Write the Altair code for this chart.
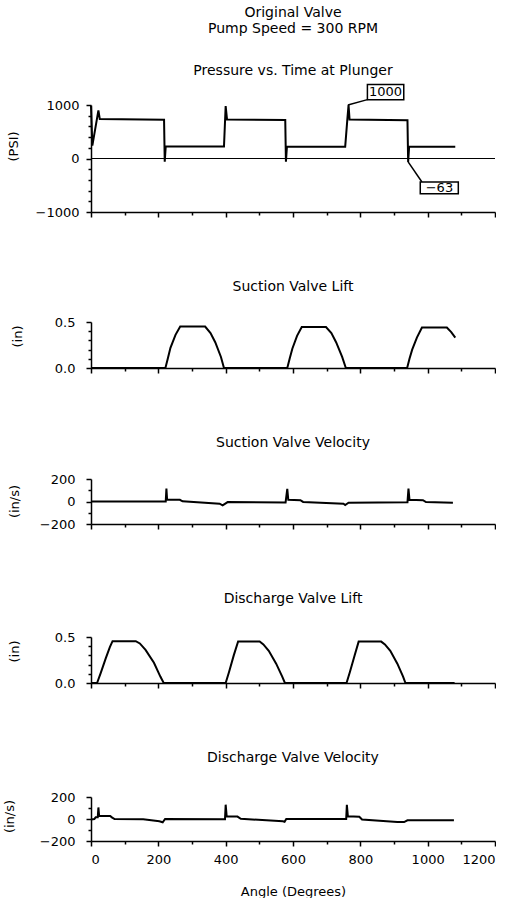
import altair as alt
import pandas as pd

FONT = "DejaVu Sans"

# ---------------- data ----------------
pressure_angle = [0, 4, 22, 26, 217, 219, 222, 395, 400, 404, 577, 579, 582,
                  755, 761, 765, 768, 940, 942, 945, 1082]
pressure_psi = [980, 240, 900, 740, 725, -60, 230, 225, 980, 730, 720, -60, 225,
                220, 700, 1000, 730, 715, -63, 225, 220]

suction_lift_angle = [0, 221, 228, 236, 251, 265, 339, 355, 369, 386, 395,
                      583, 590, 598, 612, 626, 698, 714, 728, 746, 757,
                      939, 946, 954, 968, 983, 1057, 1070, 1082]
suction_lift_in = [0, 0, 0.10, 0.22, 0.36, 0.45, 0.45, 0.38, 0.28, 0.12, 0,
                   0, 0.10, 0.21, 0.35, 0.445, 0.445, 0.38, 0.28, 0.12, 0,
                   0, 0.10, 0.20, 0.33, 0.44, 0.44, 0.39, 0.33]

suction_vel_angle = [0, 222, 224, 226, 264, 272, 382, 391, 406, 578, 583, 586,
                     622, 630, 750, 755, 765, 940, 943, 946, 986, 995, 1075]
suction_vel_ips = [0, 0, 115, 18, 15, 2, -20, -35, -5, -8, 112, 15,
                   12, -4, -20, -31, -11, -7, 115, 15, 12, -5, -12]

discharge_lift_angle = [0, 18, 29, 44, 56, 64, 133, 145, 162, 187, 206, 216,
                        400, 410, 424, 437, 501, 512, 528, 550, 568, 576,
                        759, 769, 783, 795, 862, 873, 889, 910, 927, 934, 1080]
discharge_lift_in = [0, 0, 0.11, 0.27, 0.39, 0.455, 0.455, 0.43, 0.36, 0.22, 0.07, 0,
                     0, 0.12, 0.30, 0.452, 0.452, 0.42, 0.35, 0.21, 0.07, 0,
                     0, 0.12, 0.30, 0.45, 0.45, 0.42, 0.35, 0.21, 0.07, 0, 0]

discharge_vel_angle = [0, 10, 14, 20, 22, 24, 57, 62, 70, 155, 203, 213, 220,
                       398, 400, 403, 435, 445, 570, 575, 580,
                       758, 760, 763, 797, 805, 910, 930, 940, 1078]
discharge_vel_ips = [-5, 0, 15, 15, 105, 30, 28, 15, 0, -2, -20, -30, 0,
                     -2, 130, 25, 22, 2, -20, -25, 0,
                     0, 128, 25, 20, -5, -27, -28, -12, -12]

x_ticks = list(range(0, 1201, 100))

callout_text = ["1000", "\u221263"]
callout_angle = [875, 1035]
callout_psi = [1241, -550]
box_angle = [821, 978]
box_angle2 = [929, 1091]
box_psi = [1100, -440]
box_psi2 = [1383, -660]
leader_angle = [763, 942]
leader_psi = [1000, -63]
leader_angle2 = [821, 983]
leader_psi2 = [1100, -440]

W = 404
TFS = 14   # title font size
LFS = 13   # axis label / axis title font size


def x_enc(field, show):
    axis = alt.Axis(
        values=x_ticks,
        labels=show,
        format="d",
        labelExpr="datum.value % 200 == 0 ? datum.label : ''",
        labelOverlap=False,
        tickSize={"condition": {"test": "datum.value % 200 == 0", "value": 5}, "value": 3},
        title="Angle (Degrees)" if show else None,
        labelPadding=7,
        titlePadding=19,
        grid=False,
    )
    return alt.X(f"{field}:Q", scale=alt.Scale(domain=[0, 1200], nice=False, zero=False), axis=axis)


def y_axis(values, major_test, fmt, title, title_x, title_y, label_pad):
    return alt.Axis(
        values=values,
        format=fmt,
        labelExpr=f"({major_test}) ? datum.label : ''",
        labelOverlap=False,
        tickSize={"condition": {"test": major_test, "value": 5}, "value": 3},
        title=title,
        titleX=title_x,
        titleY=title_y,
        titleBaseline="middle",
        titleAlign="center",
        labelPadding=label_pad,
        grid=False,
    )


def y_enc(field, domain, axis):
    return alt.Y(f"{field}:Q", scale=alt.Scale(domain=domain, nice=False, zero=False), axis=axis)


def ptitle(text, offset):
    return alt.TitleParams(text=text, fontSize=TFS, fontWeight="normal", font=FONT,
                           color="black", anchor="middle", frame="group", offset=offset)


# ---------------- pressure panel ----------------
p_df = pd.DataFrame({"angle": pressure_angle, "psi": pressure_psi})
p_domain = [-1000, 1000]
p_axis = y_axis(list(range(-1000, 1001, 200)), "datum.value % 1000 == 0", "d",
                "(PSI)", -78, 41, 7)

p_line = alt.Chart(p_df).mark_line(color="black", strokeWidth=2).encode(
    x=x_enc("angle", False), y=y_enc("psi", p_domain, p_axis))

zero_rule = alt.Chart(p_df).mark_rule(color="black", strokeWidth=1).encode(
    y=alt.YDatum(0, type="quantitative",
                 scale=alt.Scale(domain=p_domain, nice=False, zero=False), axis=p_axis))

lead_df = pd.DataFrame({"angle": leader_angle, "psi": leader_psi,
                        "angle2": leader_angle2, "psi2": leader_psi2})
leaders = alt.Chart(lead_df).mark_rule(color="black", strokeWidth=1.5).encode(
    x=x_enc("angle", False), y=y_enc("psi", p_domain, p_axis),
    x2=alt.X2("angle2:Q"), y2=alt.Y2("psi2:Q"))

box_df = pd.DataFrame({"angle": box_angle, "psi": box_psi,
                       "angle2": box_angle2, "psi2": box_psi2})
boxes = alt.Chart(box_df).mark_rect(fill="white", stroke="black", strokeWidth=1.5).encode(
    x=x_enc("angle", False), y=y_enc("psi", p_domain, p_axis),
    x2=alt.X2("angle2:Q"), y2=alt.Y2("psi2:Q"))

txt_df = pd.DataFrame({"angle": callout_angle, "psi": callout_psi, "label": callout_text})
texts = alt.Chart(txt_df).mark_text(font=FONT, fontSize=LFS, color="black",
                                    baseline="middle", align="center").encode(
    x=x_enc("angle", False), y=y_enc("psi", p_domain, p_axis), text="label:N")

pressure = alt.layer(p_line, zero_rule, leaders, boxes, texts).properties(
    width=W, height=107,
    title=alt.TitleParams(
        text=["Original Valve", "Pump Speed = 300 RPM"],
        subtitle="Pressure vs. Time at Plunger",
        fontSize=TFS, subtitleFontSize=TFS, fontWeight="normal",
        font=FONT, subtitleFont=FONT, color="black", subtitleColor="black",
        lineHeight=16, subtitleLineHeight=16, subtitlePadding=28,
        anchor="middle", frame="group", offset=6),
)

# ---------------- other panels ----------------
lift_vals = [0, 0.1, 0.2, 0.3, 0.4, 0.5]
lift_test = "datum.value == 0 || datum.value == 0.5"
vel_vals = [-200, -100, 0, 100, 200]
vel_test = "datum.value % 200 == 0"

sl = alt.Chart(pd.DataFrame({"angle": suction_lift_angle, "lift": suction_lift_in})).mark_line(
    color="black", strokeWidth=2).encode(
    x=x_enc("angle", False),
    y=y_enc("lift", [0, 0.5], y_axis(lift_vals, lift_test, ".1f", "(in)", -74, 14, 11)),
).properties(width=W, height=46, title=ptitle("Suction Valve Lift", 22))

sv = alt.Chart(pd.DataFrame({"angle": suction_vel_angle, "vel": suction_vel_ips})).mark_line(
    color="black", strokeWidth=2).encode(
    x=x_enc("angle", False),
    y=y_enc("vel", [-200, 200], y_axis(vel_vals, vel_test, "d", "(in/s)", -77, 22, 11)),
).properties(width=W, height=45, title=ptitle("Suction Valve Velocity", 23))

dl = alt.Chart(pd.DataFrame({"angle": discharge_lift_angle, "lift": discharge_lift_in})).mark_line(
    color="black", strokeWidth=2).encode(
    x=x_enc("angle", False),
    y=y_enc("lift", [0, 0.5], y_axis(lift_vals, lift_test, ".1f", "(in)", -77, 14, 11)),
).properties(width=W, height=46, title=ptitle("Discharge Valve Lift", 25))

dv = alt.Chart(pd.DataFrame({"angle": discharge_vel_angle, "vel": discharge_vel_ips})).mark_line(
    color="black", strokeWidth=2).encode(
    x=x_enc("angle", True),
    y=y_enc("vel", [-200, 200], y_axis(vel_vals, vel_test, "d", "(in/s)", -82, 19, 11)),
).properties(width=W, height=44, title=ptitle("Discharge Valve Velocity", 26))

chart = alt.vconcat(pressure, sl, sv, dl, dv, spacing=61).properties(
    padding={"left": 3, "right": 0, "top": 5, "bottom": 0},
    background="white",
).configure_view(stroke=None).configure_axis(
    domainColor="black", domainWidth=1.5, tickColor="black", tickWidth=1.5,
    labelColor="black", labelFont=FONT, labelFontSize=LFS,
    titleColor="black", titleFont=FONT, titleFontSize=LFS, titleFontWeight="normal",
)

chart.save("out.html", embed_options={"renderer": "svg", "actions": False})
